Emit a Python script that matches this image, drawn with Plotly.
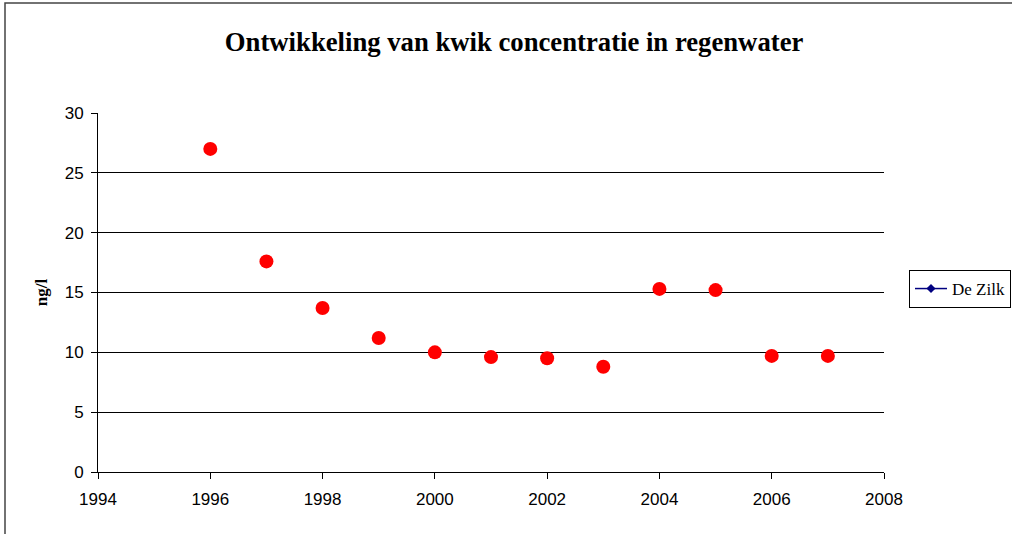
import plotly.graph_objects as go

years = [1996, 1997, 1998, 1999, 2000, 2001, 2002, 2003, 2004, 2005, 2006, 2007]
kwik = [27.0, 17.6, 13.7, 11.2, 10.0, 9.6, 9.5, 8.8, 15.3, 15.2, 9.7, 9.7]
x_ticks = [1994, 1996, 1998, 2000, 2002, 2004, 2006, 2008]
y_ticks = [0, 5, 10, 15, 20, 25, 30]
series_name = "De Zilk"
title_text = "Ontwikkeling van kwik concentratie in regenwater"
y_title = "ng/l"

W, H = 1012, 534
L, R, T, B = 98, 128, 113, 62
pw, ph = W - L - R, H - T - B

tick_font = dict(family="Liberation Sans, sans-serif", size=17, color="black")

fig = go.Figure()
fig.add_trace(go.Scatter(
    x=years, y=kwik, mode="markers",
    marker=dict(color="#ff0000", size=14, symbol="circle"),
    showlegend=False, hoverinfo="x+y",
))
fig.add_trace(go.Scatter(
    x=[None], y=[None], mode="lines+markers", name=series_name,
    line=dict(color="#000080", width=1.5),
    marker=dict(color="#000080", size=7, symbol="diamond"),
))

def px2paper_x(px):
    return (px - L) / pw

def px2paper_y(py):
    return (H - B - py) / ph

fig.add_shape(type="rect", xref="paper", yref="paper",
              x0=px2paper_x(5), x1=px2paper_x(1100),
              y0=px2paper_y(600), y1=px2paper_y(3),
              line=dict(color="#444444", width=1.5), fillcolor="rgba(0,0,0,0)")

fig.update_layout(
    width=W, height=H, autosize=False,
    margin=dict(l=L, r=R, t=T, b=B, autoexpand=False),
    paper_bgcolor="white", plot_bgcolor="white",
    title=dict(text="<b>" + title_text + "</b>", x=0.508, xanchor="center",
               y=1 - 42 / H, yanchor="middle",
               font=dict(family="Liberation Serif", size=26.7, color="black")),
    xaxis=dict(range=[1994, 2008], tickvals=x_ticks, ticktext=[str(v) for v in x_ticks],
               showgrid=False, zeroline=False, showline=True, linecolor="black", linewidth=1,
               ticks="outside", ticklen=6, tickcolor="black", ticklabelstandoff=6,
               tickfont=tick_font),
    yaxis=dict(range=[0, 30], tickvals=y_ticks,
               showgrid=True, gridcolor="black", gridwidth=1, zeroline=False,
               showline=True, linecolor="black", linewidth=1,
               ticks="outside", ticklen=6, tickcolor="black", ticklabelstandoff=4,
               tickfont=tick_font,
               title=dict(text="<b>" + y_title + "</b>", standoff=12,
                          font=dict(family="Liberation Serif", size=17, color="black"))),
    legend=dict(x=px2paper_x(909), xanchor="left", y=px2paper_y(289), yanchor="middle",
                bordercolor="black", borderwidth=1, bgcolor="white", itemwidth=32,
                font=dict(family="Liberation Serif", size=17, color="black")),
    showlegend=True,
)

fig.write_html(
    "out.html",
    config={"responsive": False, "displayModeBar": False},
    post_script="document.body.style.margin='0';document.body.style.overflow='hidden';",
)
